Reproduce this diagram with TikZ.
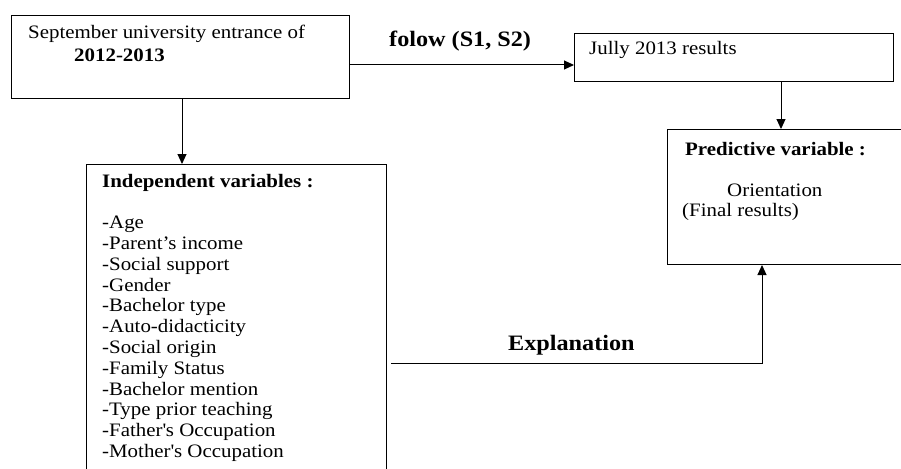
\documentclass[tikz,border=0pt]{standalone}
\usepackage{fontspec}
\setmainfont{Liberation Serif}[FakeStretch=1.1]
\usetikzlibrary{arrows.meta}
\tikzset{
  box/.style={draw, line width=1pt, anchor=north west, inner sep=0pt},
  conn/.style={line width=1pt, -{Triangle[length=10pt,width=9pt]}},
  txt/.style={anchor=base west, inner sep=0pt, font=\fontsize{19}{20.8}\selectfont},
  boldtxt/.style={anchor=base west, inner sep=0pt, font=\fontsize{19}{20.8}\selectfont\bfseries},
  lbl/.style={anchor=base west, inner sep=0pt, font=\fontsize{22}{26}\selectfont\bfseries}
}
\begin{document}
\begin{tikzpicture}[x=1pt,y=-1pt]
\useasboundingbox (0,0) rectangle (901,468);
% boxes
\node[box, minimum width=338pt, minimum height=83pt] (entry) at (11,15) {};
\node[box, minimum width=319pt, minimum height=48pt] (results) at (574,33) {};
\node[box, minimum width=300pt, minimum height=330pt] (indep) at (86,164) {};
\node[box, minimum width=245pt, minimum height=135pt] (pred) at (667,129) {};
% connectors
\draw[conn] ([yshift=-50pt]entry.north east) -- ([yshift=-32pt]results.north west);
\draw[conn] ([xshift=207pt]results.south west) -- ([xshift=114pt]pred.north west);
\draw[conn] ([xshift=171pt]entry.south west) -- ([xshift=96pt]indep.north west);
\draw[conn] ([xshift=4pt,yshift=-199pt]indep.north east) -| ([xshift=95pt]pred.south west);
% texts
\node[txt] (t1) at (28,38.5) {September university entrance of};
\node[boldtxt] (t2) at (74,61.5) {2012-2013};
\node[lbl] (l1) at (389,46.7) {folow (S1, S2)};
\node[txt] (t3) at (589,55) {Jully 2013 results};
\node[boldtxt] (t4) at (685,155) {Predictive variable :};
\node[txt] (t5) at (727,196) {Orientation};
\node[txt] (t6) at (682,216) {(Final results)};
\node[lbl] (l2) at (508,350) {Explanation};
\node[txt] (list) at (102,187) {\parbox[t]{270pt}{\raggedright
\textbf{Independent variables :}\\[\baselineskip]
-Age\\
-Parent’s income\\
-Social support\\
-Gender\\
-Bachelor type\\
-Auto-didacticity\\
-Social origin\\
-Family Status\\
-Bachelor mention\\
-Type prior teaching\\
-Father\textquotesingle s Occupation\\
-Mother\textquotesingle s Occupation}};
\end{tikzpicture}
\end{document}
